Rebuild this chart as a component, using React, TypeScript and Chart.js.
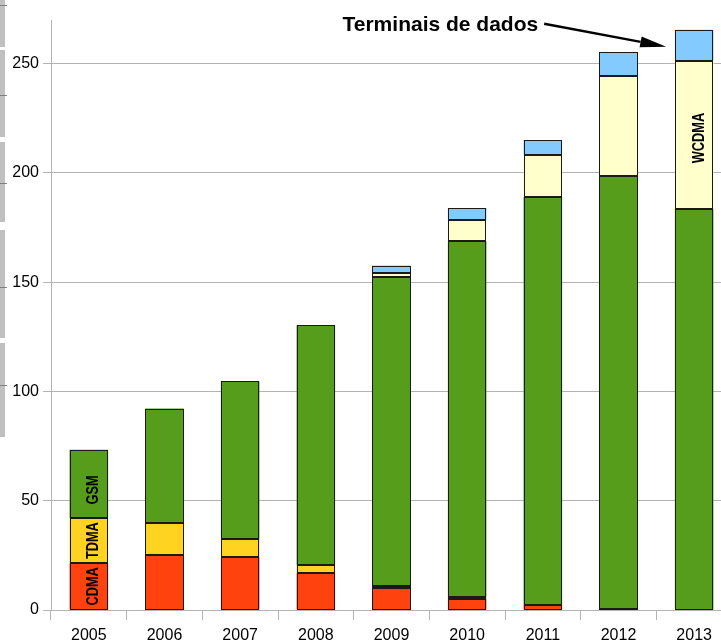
import React, { useEffect, useRef } from "react";
import { Chart, registerables } from "chart.js";

Chart.register(...registerables);

const years = ["2005", "2006", "2007", "2008", "2009", "2010", "2011", "2012", "2013"];
const cdma = [21.4, 25.1, 24.2, 16.8, 10.2, 5.2, 2.4, 0.6, null];
const tdma = [20.7, 14.7, 8.1, 3.7, 0.7, 0.6, null, null, null];
const gsm = [31.2, 52.4, 72.3, 109.8, 141.3, 163.0, 186.6, 198.2, 183.6];
const wcdma = [null, null, null, null, 1.9, 9.6, 19.3, 45.4, 67.5];
const dados = [null, null, null, null, 3.5, 5.6, 6.8, 11.1, 14.4];
const seriesNames = ["CDMA", "TDMA", "GSM", "WCDMA", "Terminais de dados"];
const yTicks = [0, 50, 100, 150, 200, 250];
const annotationText = "Terminais de dados";

const colors = ["#ff420e", "#ffd320", "#579d1c", "#ffffcc", "#83caff"];
const FONT = '"Liberation Sans", Arial, sans-serif';

const outlinePlugin = {
  id: "barOutlines",
  afterDatasetsDraw(chart: any) {
    const ctx = chart.ctx;
    ctx.save();
    ctx.strokeStyle = "#1a1a1a";
    ctx.lineWidth = 1;
    chart.data.datasets.forEach((ds: any, di: number) => {
      const meta = chart.getDatasetMeta(di);
      meta.data.forEach((el: any, i: number) => {
        const v = ds.data[i];
        if (v === null || v === undefined) return;
        const l = Math.round(el.x - el.width / 2) + 0.5;
        const r = Math.round(el.x + el.width / 2) - 0.5;
        const t = Math.round(Math.min(el.y, el.base)) + 0.5;
        const b = Math.round(Math.max(el.y, el.base)) - 0.5;
        ctx.strokeRect(l, t, r - l, Math.max(b - t, 0.01));
      });
    });
    ctx.restore();
  },
};

const labelPlugin = {
  id: "insideLabels",
  afterDatasetsDraw(chart: any) {
    const ctx = chart.ctx;
    const drawInside = (ds: number, idx: number, text: string, dy: number) => {
      const el = chart.getDatasetMeta(ds).data[idx];
      if (!el) return;
      const cx = el.x + 5;
      const cy = (el.y + el.base) / 2 + dy;
      ctx.save();
      ctx.translate(cx, cy);
      ctx.rotate(-Math.PI / 2);
      ctx.scale(0.8, 1);
      ctx.font = "bold 16px " + FONT;
      ctx.textAlign = "center";
      ctx.textBaseline = "middle";
      ctx.fillStyle = "#000";
      ctx.fillText(text, 0, 0);
      ctx.restore();
    };
    drawInside(0, 0, seriesNames[0], 0);
    drawInside(1, 0, seriesNames[1], 0);
    drawInside(2, 0, seriesNames[2], 6);
    drawInside(3, 8, seriesNames[3], 3);

    // annotation with arrow
    const xs = chart.scales.x;
    const ys = chart.scales.y;
    const tipX = xs.getPixelForValue(8) - 28;
    const tipY = ys.getPixelForValue(257.8);
    const textRight = tipX - 128;
    const textY = ys.getPixelForValue(264.8);
    ctx.save();
    ctx.font = "bold 21px " + FONT;
    ctx.textAlign = "right";
    ctx.textBaseline = "alphabetic";
    ctx.fillStyle = "#000";
    ctx.fillText(annotationText, textRight, textY);
    const sx = textRight + 6;
    const sy = ys.getPixelForValue(268.3);
    const ang = Math.atan2(tipY - sy, tipX - sx);
    const headLen = 26;
    const headW = 5.5;
    const bx = tipX - headLen * Math.cos(ang);
    const by = tipY - headLen * Math.sin(ang);
    ctx.strokeStyle = "#000";
    ctx.lineWidth = 2.5;
    ctx.beginPath();
    ctx.moveTo(sx, sy);
    ctx.lineTo(bx, by);
    ctx.stroke();
    ctx.beginPath();
    ctx.moveTo(tipX, tipY);
    ctx.lineTo(bx + headW * Math.sin(ang), by - headW * Math.cos(ang));
    ctx.lineTo(bx - headW * Math.sin(ang), by + headW * Math.cos(ang));
    ctx.closePath();
    ctx.fillStyle = "#000";
    ctx.fill();
    ctx.restore();
  },
};

export default function App() {
  const ref = useRef<HTMLCanvasElement | null>(null);

  useEffect(() => {
    if (!ref.current) return;
    const seriesData = [cdma, tdma, gsm, wcdma, dados];
    const chart = new Chart(ref.current, {
      type: "bar",
      data: {
        labels: years,
        datasets: seriesData.map((d, i) => ({
          label: seriesNames[i],
          data: d as any,
          backgroundColor: colors[i],
          borderWidth: 0,
          categoryPercentage: 1,
          barPercentage: 0.51,
        })),
      },
      options: {
        responsive: false,
        animation: false,
        devicePixelRatio: 1,
        layout: { padding: { top: 20, left: 0, right: 0, bottom: 0 } },
        plugins: {
          legend: { display: false },
          tooltip: { enabled: false },
        },
        scales: {
          x: {
            stacked: true,
            grid: {
              offset: true,
              drawOnChartArea: false,
              drawTicks: true,
              tickLength: 10,
              color: "#b3b3b3",
            },
            border: { display: true, color: "#b3b3b3" },
            ticks: {
              font: { family: FONT, size: 16 },
              color: "#000",
              padding: 6,
              maxRotation: 0,
            },
            afterFit(scale: any) {
              scale.height = 33;
            },
          },
          y: {
            stacked: true,
            min: 0,
            max: 270,
            grid: {
              color: "#b3b3b3",
              tickLength: 8,
            },
            border: { display: true, color: "#b3b3b3" },
            ticks: {
              stepSize: 50,
              includeBounds: false,
              font: { family: FONT, size: 16 },
              color: "#000",
              padding: 4,
              callback: (v: any) => (yTicks.includes(Number(v)) ? String(v) : ""),
            },
            afterFit(scale: any) {
              scale.width = 51;
            },
          },
        },
      },
      plugins: [outlinePlugin, labelPlugin],
    });
    return () => chart.destroy();
  }, []);

  const greySegs = [
    [0, 47],
    [50, 137],
    [142, 222],
    [230, 338],
    [343, 437],
  ];
  const darkTicks = [5, 95, 183, 287, 385];

  return (
    <div
      style={{
        position: "absolute",
        left: 0,
        top: 0,
        width: 721,
        height: 643,
        overflow: "hidden",
        background: "#fff",
      }}
    >
      <canvas ref={ref} width={732} height={643} style={{ display: "block", width: 732, height: 643 }} />
      {greySegs.map(([a, b], i) => (
        <div
          key={"g" + i}
          style={{ position: "absolute", left: 0, top: a, width: 5, height: b - a, background: "#c0c0c0" }}
        />
      ))}
      {darkTicks.map((t, i) => (
        <div
          key={"t" + i}
          style={{ position: "absolute", left: 0, top: t, width: 7, height: 1, background: "#808080" }}
        />
      ))}
    </div>
  );
}
